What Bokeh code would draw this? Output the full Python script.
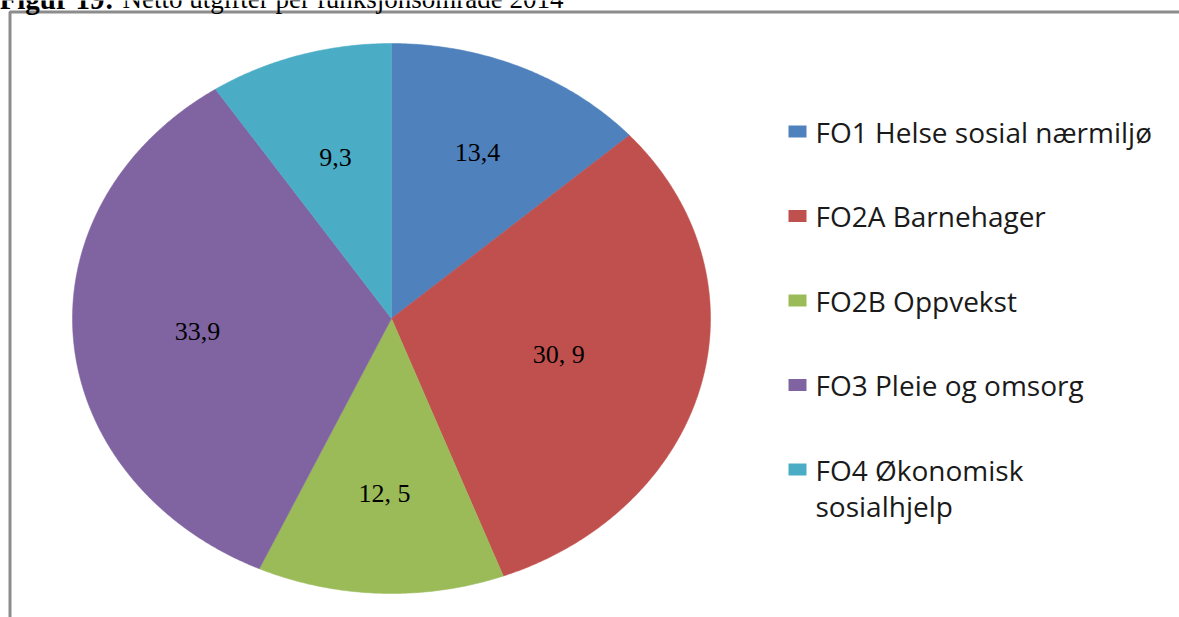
import math
from bokeh.plotting import figure
from bokeh.models import Range1d
from bokeh.core.properties import value
from bokeh.embed import file_html
from bokeh.resources import INLINE

# ---- data ----
TITLE_BOLD = "Figur 19:"
TITLE_REST = "Netto utgifter per funksjonsområde 2014"
categories = ["FO1 Helse sosial nærmiljø", "FO2A Barnehager", "FO2B Oppvekst",
              "FO3 Pleie og omsorg", "FO4 Økonomisk\nsosialhjelp"]
shares = [13.4, 30.9, 12.5, 33.9, 9.3]
value_labels = ["13,4", "30, 9", "12, 5", "33,9", "9,3"]
colors = ["#4F81BD", "#C0504D", "#9BBB59", "#8064A2", "#4BACC6"]

# ---- layout (pixel space) ----
W, H = 1179, 617
CX, CY, RX, RY = 391, 318, 319, 275
LABEL_R = [0.66, 0.54, 0.635, 0.61, 0.61]
LEG_X_SQ, LEG_X_TXT = 797, 815
LEG_Y0, LEG_DY = 131, 84.5
LEG_FONT = 28
LEG_LINE_GAP = 36

p = figure(width=W, height=H, output_backend="svg", toolbar_location=None,
           x_range=Range1d(0, W), y_range=Range1d(H, 0), min_border=0,
           x_axis_location=None, y_axis_location=None)
p.grid.visible = False
p.outline_line_color = None
p.background_fill_color = "white"
p.border_fill_color = "white"

# frame (decoration)
p.line(x=[9.5, 9.5, W], y=[H, 11.5, 11.5], line_color="#8c8c8c", line_width=3)

# title (partly cut at top)
p.text(x=[-1], y=[-2], text=[TITLE_BOLD], text_font=value("Liberation Serif"),
       text_font_size="29px", text_font_style="bold", text_baseline="alphabetic",
       text_color="black")
p.text(x=[122], y=[-2], text=[TITLE_REST], text_font=value("Liberation Serif"),
       text_font_size="27px", text_baseline="alphabetic", text_color="black")

# pie slices (elliptical)
total = sum(shares)
xs_list, ys_list, lx, ly = [], [], [], []
cum = 0.0
for i, s in enumerate(shares):
    a0 = cum / total * 2 * math.pi
    cum += s
    a1 = cum / total * 2 * math.pi
    n = max(3, int((a1 - a0) / (2 * math.pi) * 720))
    xs = [CX]
    ys = [CY]
    for k in range(n + 1):
        t = a0 + (a1 - a0) * k / n
        xs.append(CX + RX * math.sin(t))
        ys.append(CY - RY * math.cos(t))
    xs_list.append(xs)
    ys_list.append(ys)
    mid = (a0 + a1) / 2
    lx.append(CX + LABEL_R[i] * RX * math.sin(mid))
    ly.append(CY - LABEL_R[i] * RY * math.cos(mid))

p.patches(xs_list, ys_list, fill_color=colors, line_color=colors, line_width=0.5)

p.text(x=lx, y=ly, text=value_labels, text_font=value("Liberation Serif"),
       text_font_size="26px", text_align="center", text_baseline="middle",
       text_color="black")

# legend
rows = [LEG_Y0 + i * LEG_DY for i in range(len(categories))]
p.rect(x=[LEG_X_SQ] * len(categories), y=rows, width=18, height=12,
       fill_color=colors, line_color=None)
tx, ty, tt = [], [], []
for r, c in zip(rows, categories):
    for j, line in enumerate(c.split("\n")):
        tx.append(LEG_X_TXT)
        ty.append(r + j * LEG_LINE_GAP)
        tt.append(line)
p.text(x=tx, y=ty, text=tt, text_font=value("Open Sans"),
       text_font_size=f"{LEG_FONT}px", text_baseline="middle", text_align="left",
       text_color="#1a1a1a")

open("out.html", "w").write(file_html(p, INLINE))
